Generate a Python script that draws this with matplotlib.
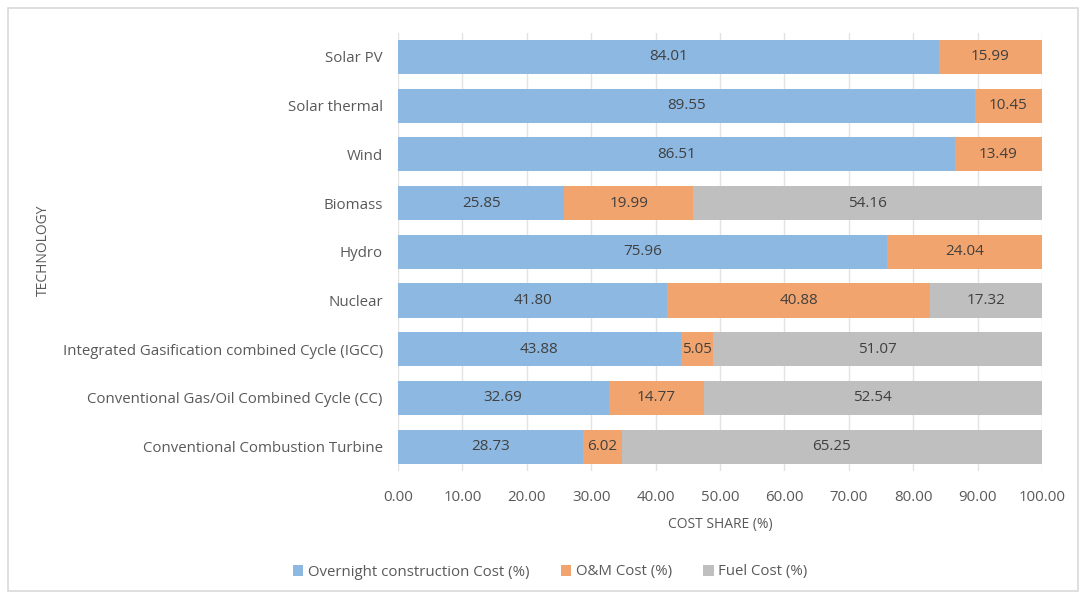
import matplotlib
matplotlib.use("Agg")
import matplotlib.pyplot as plt
from matplotlib.patches import Rectangle
import numpy as np

technologies = [
    "Solar PV",
    "Solar thermal",
    "Wind",
    "Biomass",
    "Hydro",
    "Nuclear",
    "Integrated Gasification combined Cycle (IGCC)",
    "Conventional Gas/Oil Combined Cycle (CC)",
    "Conventional Combustion Turbine",
]
overnight = [84.01, 89.55, 86.51, 25.85, 75.96, 41.80, 43.88, 32.69, 28.73]
om = [15.99, 10.45, 13.49, 19.99, 24.04, 40.88, 5.05, 14.77, 6.02]
fuel = [0, 0, 0, 54.16, 0, 17.32, 51.07, 52.54, 65.25]
series_names = ["Overnight construction Cost (%)", "O&M Cost (%)", "Fuel Cost (%)"]
xticks = [0, 10, 20, 30, 40, 50, 60, 70, 80, 90, 100]

colors = ["#8DB8E2", "#F2A46E", "#BFBFBF"]
text_color = "#595959"
plt.rcParams['font.family'] = ['Open Sans', 'DejaVu Sans']

fig = plt.figure(figsize=(10.81, 5.92), dpi=100)
fig.patches.append(Rectangle((8/1081, 1/592), 1070/1081, 583/592, transform=fig.transFigure,
                             fill=False, edgecolor="#D9D9D9", linewidth=1.2))
ax = fig.add_axes([398/1081, 1 - 471/592, (1042 - 398)/1081, (471 - 32.6)/592])

y = np.arange(len(technologies))
left = np.zeros(len(technologies))
for vals, col, name in zip([overnight, om, fuel], colors, series_names):
    vals = np.array(vals)
    ax.barh(y, vals, left=left, height=0.7, color=col, label=name, zorder=2)
    for yi, (l, v) in enumerate(zip(left, vals)):
        if v > 0:
            ax.text(l + v / 2, yi, f"{v:.2f}", ha="center", va="center",
                    fontsize=11, color="#404040", zorder=3)
    left += vals

ax.set_ylim(len(technologies) - 0.5, -0.5)
ax.set_xlim(0, 100)
ax.set_yticks(y)
ax.set_yticklabels(technologies, fontsize=10.8, color=text_color)
ax.set_xticks(xticks)
ax.set_xticklabels([f"{t:.2f}" for t in xticks], fontsize=10.8, color=text_color)
ax.tick_params(axis="y", length=0, pad=11)
ax.tick_params(axis="x", length=0, pad=14)
for s in ax.spines.values():
    s.set_visible(False)
ax.grid(axis="x", color="#E3E3E3", linewidth=1, zorder=0)
ax.set_axisbelow(True)

ax.set_xlabel("COST SHARE (%)", fontsize=10, color=text_color, labelpad=8)
fig.text(43/1081, 1 - 250/592, "TECHNOLOGY", rotation=90, ha="center", va="center",
         fontsize=10, color=text_color)

fig.legend(loc="center", bbox_to_anchor=(0.509, 1 - 572/592), ncol=3, frameon=False,
           fontsize=10.8, handlelength=0.7, handleheight=0.7, handletextpad=0.3,
           columnspacing=2.1, labelcolor=text_color)

fig.savefig("out.png", dpi=100)
